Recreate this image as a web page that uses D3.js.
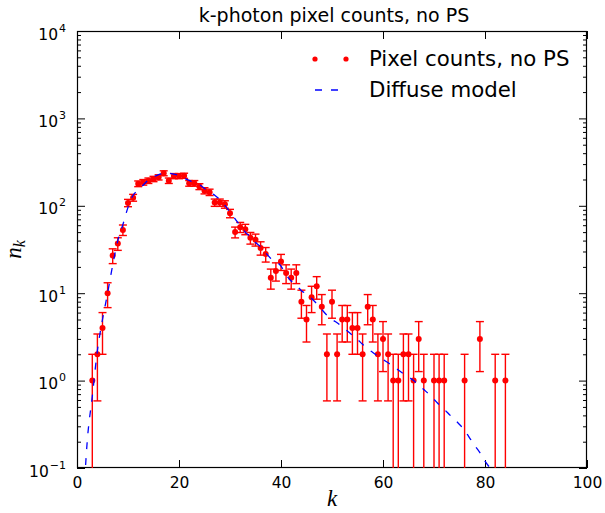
<!DOCTYPE html>
<html>
<head>
<meta charset="utf-8">
<script src="https://cdn.jsdelivr.net/npm/d3@7"></script>
<style>
  html, body { margin: 0; padding: 0; background: #fff; }
  svg { display: block; font-family: "DejaVu Sans", sans-serif; }
</style>
</head>
<body>
<svg id="chart" width="605" height="513"></svg>
<script>
// ---- data ----
const title = "k-photon pixel counts, no PS";
const seriesNames = ["Pixel counts, no PS", "Diffuse model"];
const kValues = [3,4,5,6,7,8,9,10,11,12,13,14,15,16,17,18,19,20,21,22,23,24,25,26,27,28,29,30,
  31,32,33,34,35,36,37,38,39,40,41,42,43,44,45,46,47,48,49,50,51,52,53,54,55,56,57,58,59,60,
  61,62,63,64,65,66,67,68,70,71,72,76,79,82,84];
const counts = [1,2,4,10,27,37,53,108,124,179,186,194,203,212,236,194,219,219,221,181,181,166,149,143,109,109,104,82,
  50,57,54,43,41,33,28,15,18,23,17,15,17,8,5,9,12,7,2,8,2,5,5,4,4,2,7,5,2,3,
  2,1,1,2,2,1,3,1,1,1,1,1,3,1,1];
const modelK = [1,2,3,4,5,6,7,8,9,10,11,12,13,14,15,16,17,18,19,20,21,22,23,24,25,26,27,28,29,30,
  31,32,33,34,35,36,37,38,39,40,41,42,43,44,45,46,47,48,49,50,51,52,53,54,55,56,57,58,59,60,
  61,62,63,64,65,66,67,68,69,70,71,72,73,74,75,76,77,78,79,80,81];
const modelN = [0.02,0.2,0.66,2.2,5.0,10,21,40,61,96,132,151,173,198,214,228,233,235,230,223,208,195,184,174,158,144,132,118,101,85,
  71,59,50,44,38,34,29,25,23,20.4,16.2,13.8,12.3,10.7,9.8,8.7,7.6,6.5,5.6,5.0,4.6,4.1,3.7,3.3,2.95,2.6,2.3,2.1,1.9,1.74,
  1.6,1.46,1.32,1.2,1.1,1.0,0.89,0.79,0.7,0.61,0.53,0.47,0.41,0.36,0.315,0.27,0.22,0.18,0.15,0.12,0.1];
const xTicks = [0,20,40,60,80,100];
const yTickExponents = [-1,0,1,2,3,4];

// ---- layout ----
const svg = d3.select("#chart");
const L = 77, R = 587, T = 31, B = 468;
const x = d3.scaleLinear().domain([0,100]).range([L,R]);
const y = d3.scaleLog().domain([0.1,10000]).range([B,T]);
const red = "#ff0000", blue = "#0000ff";

svg.append("defs").append("clipPath").attr("id","clip")
  .append("rect").attr("x",L).attr("y",T).attr("width",R-L).attr("height",B-T);

// minor tick values
const minorVals = [];
yTickExponents.slice(0,-1).forEach(e => { for (let m=2;m<=9;m++) minorVals.push(m*Math.pow(10,e)); });
const majorVals = yTickExponents.map(e => Math.pow(10,e));

// axes (ticks inward)
const gx = svg.append("g").attr("transform",`translate(0,${B})`)
  .call(d3.axisBottom(x).tickValues(xTicks).tickSize(-8).tickSizeOuter(0).tickPadding(5).tickFormat(d3.format("d")));
svg.append("g").attr("transform",`translate(0,${T})`)
  .call(d3.axisTop(x).tickValues(xTicks).tickSize(-8).tickSizeOuter(0).tickFormat(""));
const gyl = svg.append("g").attr("transform",`translate(${L},0)`)
  .call(d3.axisLeft(y).tickValues(majorVals).tickSize(-8).tickSizeOuter(0).tickFormat(""));
svg.append("g").attr("transform",`translate(${L},0)`)
  .call(d3.axisLeft(y).tickValues(minorVals).tickSize(-4).tickSizeOuter(0).tickFormat(""));
svg.append("g").attr("transform",`translate(${R},0)`)
  .call(d3.axisRight(y).tickValues(majorVals).tickSize(-8).tickSizeOuter(0).tickFormat(""));
svg.append("g").attr("transform",`translate(${R},0)`)
  .call(d3.axisRight(y).tickValues(minorVals).tickSize(-4).tickSizeOuter(0).tickFormat(""));
svg.selectAll(".domain").remove();
svg.selectAll(".tick line").attr("stroke","#000").attr("stroke-width",1);
gx.selectAll("text").attr("font-size","15.5px").attr("font-family","DejaVu Sans").attr("fill","#000").attr("dy","0.95em");

// y tick labels 10^e
gyl.selectAll(".tick").each(function(d,i){
  const e = yTickExponents[i];
  const t = d3.select(this).append("text").attr("x",-11).attr("y",8).attr("text-anchor","end")
    .attr("fill","#000").attr("font-size","15.5px").attr("font-family","DejaVu Sans");
  t.append("tspan").text("10");
  t.append("tspan").attr("dx",1).attr("dy",-8).attr("font-size","11px").text(String(e).replace("-","\u2212"));
});

// frame
svg.append("rect").attr("x",L+0.5).attr("y",T+0.5).attr("width",R-L-1).attr("height",B-T-1)
  .attr("fill","none").attr("stroke","#000").attr("stroke-width",1.2);

// data
const pts = kValues.map((k,i)=>({k, n: counts[i]}));
const gd = svg.append("g").attr("clip-path","url(#clip)");
const cap = 4;
const ylo = d => y(Math.max(d.n - Math.sqrt(d.n), 1e-4));
const yhi = d => y(d.n + Math.sqrt(d.n));
gd.selectAll("line.bar").data(pts).join("line").attr("class","bar")
  .attr("x1",d=>x(d.k)).attr("x2",d=>x(d.k)).attr("y1",ylo).attr("y2",yhi)
  .attr("stroke",red).attr("stroke-width",1.4);
gd.selectAll("line.capt").data(pts).join("line").attr("class","capt")
  .attr("x1",d=>x(d.k)-cap).attr("x2",d=>x(d.k)+cap).attr("y1",yhi).attr("y2",yhi)
  .attr("stroke",red).attr("stroke-width",1.4);
gd.selectAll("line.capb").data(pts).join("line").attr("class","capb")
  .attr("x1",d=>x(d.k)-cap).attr("x2",d=>x(d.k)+cap).attr("y1",ylo).attr("y2",ylo)
  .attr("stroke",red).attr("stroke-width",1.4);
gd.selectAll("circle").data(pts).join("circle")
  .attr("cx",d=>x(d.k)).attr("cy",d=>y(d.n)).attr("r",3).attr("fill",red);

// model
const mdata = modelK.map((k,i)=>({k, n: modelN[i]}));
gd.append("path").datum(mdata)
  .attr("d", d3.line().x(d=>x(d.k)).y(d=>y(d.n)).curve(d3.curveMonotoneX))
  .attr("fill","none").attr("stroke",blue).attr("stroke-width",1.3).attr("stroke-dasharray","7,9");

// title
svg.append("text").attr("x",(L+R)/2+2).attr("y",22).attr("text-anchor","middle")
  .attr("font-size","19px").attr("fill","#000").text(title);

// axis labels
svg.append("text").attr("x",(L+R)/2).attr("y",506).attr("text-anchor","middle")
  .attr("font-family","Liberation Serif, DejaVu Serif, serif").attr("font-style","italic")
  .attr("font-size","23px").text("k");
const yl = svg.append("text").attr("transform",`translate(21,${(T+B)/2}) rotate(-90)`)
  .attr("text-anchor","middle")
  .attr("font-family","Liberation Serif, DejaVu Serif, serif").attr("font-style","italic")
  .attr("font-size","23px");
yl.append("tspan").text("n");
yl.append("tspan").attr("dy",4).attr("font-size","16px").text("k");

// legend
const lg = svg.append("g");
[315, 346].forEach(px => lg.append("circle").attr("cx",px).attr("cy",59).attr("r",2.6).attr("fill",red));
lg.append("text").attr("x",369).attr("y",66).attr("font-size","21.3px").attr("fill","#000").text(seriesNames[0]);
lg.append("line").attr("x1",315).attr("x2",346).attr("y1",90).attr("y2",90)
  .attr("stroke",blue).attr("stroke-width",1.3).attr("stroke-dasharray","7,9");
lg.append("text").attr("x",369).attr("y",97).attr("font-size","21.3px").attr("fill","#000").text(seriesNames[1]);
</script>
</body>
</html>
